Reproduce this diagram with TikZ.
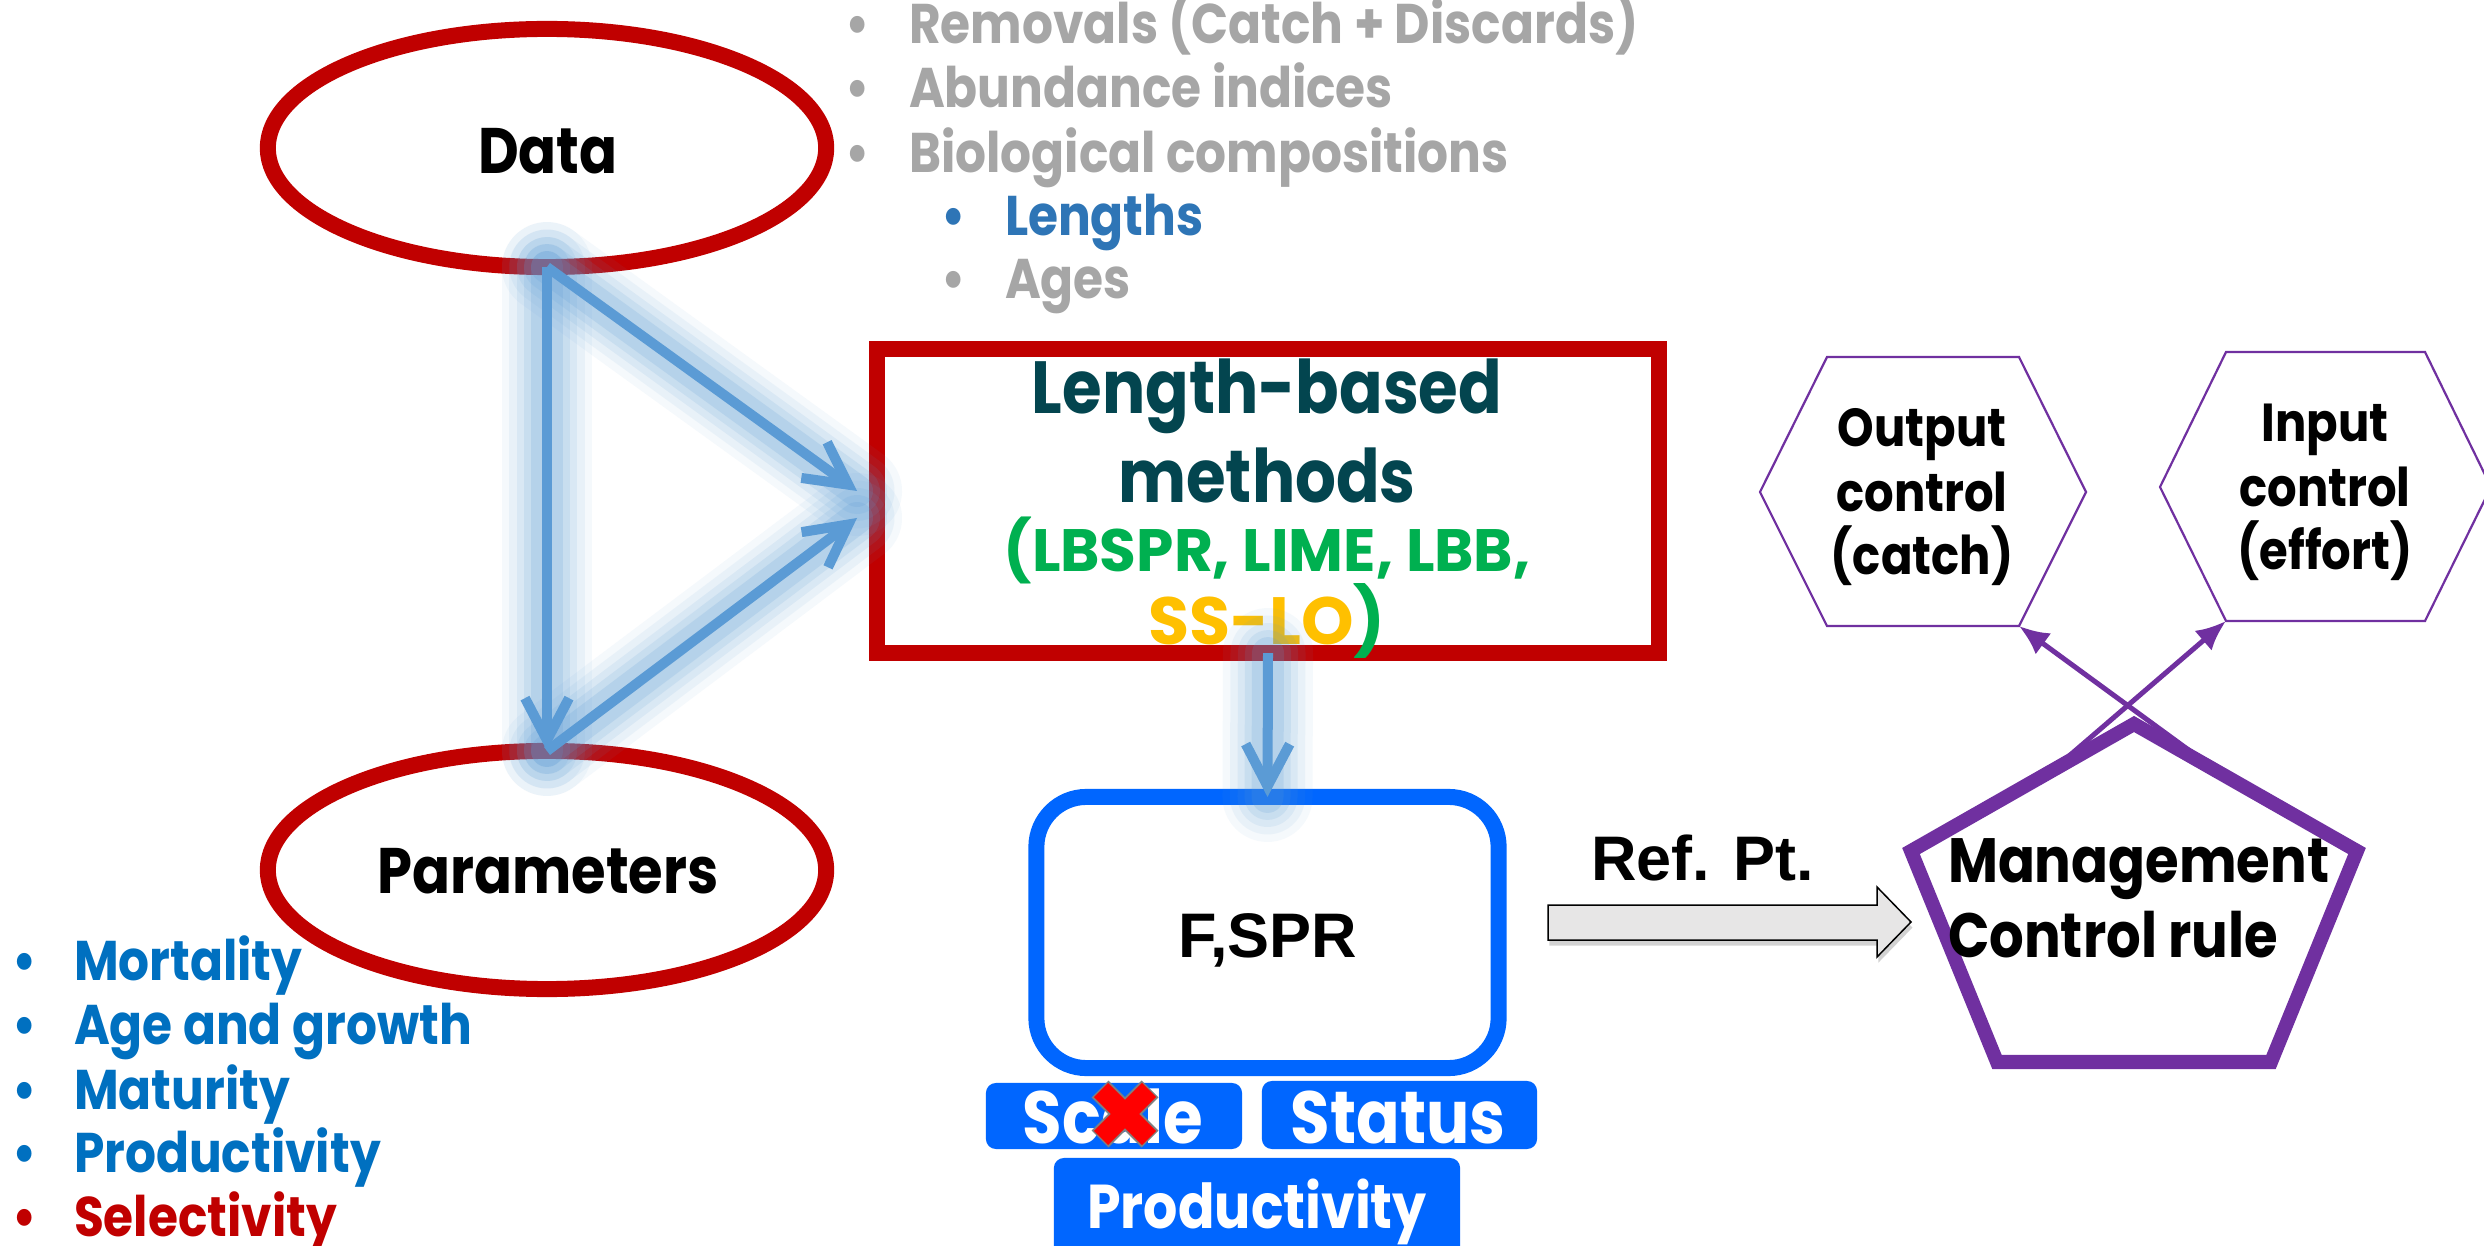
\documentclass[tikz,border=0pt]{standalone}
\usepackage{fontspec}
\newfontfamily\gf{Poppins}[FakeStretch=0.87]
\newfontfamily\gfw{Poppins}[FakeStretch=1.0]
\newfontfamily\ar{Liberation Sans}
\usetikzlibrary{arrows.meta,shapes.geometric,shadows}
\definecolor{dred}{HTML}{C00000}
\definecolor{lgray}{HTML}{A6A6A6}
\definecolor{lenblue}{HTML}{2E75B6}
\definecolor{parblue}{HTML}{0070C0}
\definecolor{teal}{HTML}{03454F}
\definecolor{lgreen}{HTML}{00B050}
\definecolor{lyellow}{HTML}{FFC000}
\definecolor{fblue}{HTML}{0066FF}
\definecolor{ablue}{HTML}{5B9BD5}
\definecolor{purp}{HTML}{7030A0}
\definecolor{afill}{HTML}{E7E6E6}
\definecolor{xred}{HTML}{FF0000}
\begin{document}
\begin{tikzpicture}[x=0.01cm,y=-0.01cm,
  lbl/.style={inner sep=0pt, outer sep=0pt, anchor=base},
  lblw/.style={inner sep=0pt, outer sep=0pt, anchor=base west},
  gfs/.style={font=\gf\bfseries\fontsize{#1}{#1}\selectfont},
  gfws/.style={font=\gfw\bfseries\fontsize{#1}{#1}\selectfont},
  ars/.style={font=\ar\bfseries\fontsize{#1}{#1}\selectfont},
  redell/.style={ellipse, draw=dred, line width=0.16cm, minimum width=5.58cm, minimum height=2.38cm, inner sep=0pt, outer sep=0pt},
  subbox/.style={fill=fblue, rounded corners=0.1cm, inner sep=0pt, outer sep=0pt},
  hexline/.style={draw=purp, line width=0.022cm, line join=miter},
  parrow/.style={draw=purp, line width=0.05cm, -{Latex[length=0.3cm,width=0.26cm]}},
  barrow/.style={draw=ablue, line width=0.1cm, -{Straight Barb[length=0.42cm,width=0.44cm]}},
  glow/.style={draw=ablue, line cap=round}
]
\useasboundingbox (0,0) rectangle (2484,1246);
\fill[white] (0,0) rectangle (2484,1246);

% ---- ellipses
\node[redell] (data) at (547,148) {};
\node[lbl, gfs=18.3] (datat) at (548,174) {Data};
\node[redell] (par) at (547,870) {};
\node[lbl, gfs=18.3] (part) at (548,893) {Parameters};

% ---- data list
\node[lbl, gfs=15.9, text=lgray] (b1) at (858,44) {•};
\node[lblw, gfs=15.9, text=lgray] (d1) at (909,44) {Removals (Catch + Discards)};
\node[lbl, gfs=15.9, text=lgray] (b2) at (858,108) {•};
\node[lblw, gfs=15.9, text=lgray] (d2) at (909,108) {Abundance indices};
\node[lbl, gfs=15.9, text=lgray] (b3) at (858,173) {•};
\node[lblw, gfs=15.9, text=lgray] (d3) at (909,173) {Biological compositions};
\node[lbl, gfs=15.9, text=lenblue] (b4) at (954,236) {•};
\node[lblw, gfs=15.9, text=lenblue] (d4) at (1005,236) {Lengths};
\node[lbl, gfs=15.9, text=lgray] (b5) at (954,299) {•};
\node[lblw, gfs=15.9, text=lgray] (d5) at (1005,299) {Ages};

% ---- parameter list
\node[lbl, gfs=15.9, text=parblue] (c1) at (25,980) {•};
\node[lblw, gfs=15.9, text=parblue] (p1) at (74,980) {Mortality};
\node[lbl, gfs=15.9, text=parblue] (c2) at (25,1044) {•};
\node[lblw, gfs=15.9, text=parblue] (p2) at (74,1044) {Age and growth};
\node[lbl, gfs=15.9, text=parblue] (c3) at (25,1109) {•};
\node[lblw, gfs=15.9, text=parblue] (p3) at (74,1109) {Maturity};
\node[lbl, gfs=15.9, text=parblue] (c4) at (25,1172) {•};
\node[lblw, gfs=15.9, text=parblue] (p4) at (74,1172) {Productivity};
\node[lbl, gfs=15.9, text=dred] (c5) at (25,1236) {•};
\node[lblw, gfs=15.9, text=dred] (p5) at (74,1236) {Selectivity};

% ---- length-based box
\node[draw=dred, line width=0.16cm, minimum width=7.82cm, minimum height=3.04cm, inner sep=0pt, outer sep=0pt] (lbm) at (1268,501) {};
\node[lbl, gfs=21, text=teal] (lb1) at (1267,414) {Length-based};
\node[lbl, gfs=21, text=teal] (lb2) at (1267,503) {methods};
\node[lbl, gfws=17, text=lgreen] (lb3) at (1267,572) {(LBSPR, LIME, LBB,};
\node[lbl, gfws=19] (lb4) at (1267,645) {\textcolor{lyellow}{SS-LO}\textcolor{lgreen}{)}};

% ---- F,SPR box
\node[draw=fblue, line width=0.16cm, rounded corners=0.5cm, minimum width=4.62cm, minimum height=2.71cm, inner sep=0pt, outer sep=0pt] (fspr) at (1267.5,932.5) {};
\node[lbl, ars=17.9] (fsprt) at (1268,957) {F,SPR};

% ---- sub boxes
\node[subbox, minimum width=2.56cm, minimum height=0.66cm] (scale) at (1114,1116) {};
\node[lbl, gfs=21, text=white] (scalet) at (1113,1143) {Scale};
\node[subbox, minimum width=2.75cm, minimum height=0.68cm] (status) at (1399.5,1115) {};
\node[lbl, gfs=21, text=white] (statust) at (1398,1143) {Status};
\node[subbox, minimum width=4.06cm, minimum height=1.02cm] (prod) at (1257,1209) {};
\node[lbl, gfs=17.6, text=white] (prodt) at (1257,1228) {Productivity};
\begin{scope}[shift={(1125,1114)}]
  \draw[draw=gray, line width=0.24cm] (-25,-25) -- (25,25);
  \draw[draw=gray, line width=0.24cm] (-25,25) -- (25,-25);
  \draw[draw=xred, line width=0.2cm] (-24,-24) -- (24,24);
  \draw[draw=xred, line width=0.2cm] (-24,24) -- (24,-24);
\end{scope}

% ---- Ref. Pt. block arrow
\node[lblw, ars=17.9] (ref) at (1591,880) {Ref. Pt.};
\draw[fill=afill, draw=black, line width=0.015cm,
      drop shadow={shadow xshift=0.4pt, shadow yshift=-1.6pt, opacity=0.35}]
  (1548,905) -- (1877,905) -- (1877,887) -- (1911,922) -- (1877,957) -- (1877,940) -- (1548,940) -- cycle;

% ---- hexagons
\coordinate (oh1) at (1760,492); \coordinate (oh2) at (1827,357); \coordinate (oh3) at (2019,357);
\coordinate (oh4) at (2086,492); \coordinate (oh5) at (2019,626); \coordinate (oh6) at (1827,626);
\draw[hexline] (oh1) -- (oh2) -- (oh3) -- (oh4) -- (oh5) -- (oh6) -- cycle;
\node[lbl, gfs=15.2] (o1) at (1922,447) {Output};
\node[lbl, gfs=15.2] (o2) at (1922,512) {control};
\node[lbl, gfs=15.2] (o3) at (1922,575) {(catch)};
\coordinate (ih1) at (2160,487); \coordinate (ih2) at (2226,352); \coordinate (ih3) at (2425,352);
\coordinate (ih4) at (2491,487); \coordinate (ih5) at (2425,621); \coordinate (ih6) at (2226,621);
\draw[hexline] (ih1) -- (ih2) -- (ih3) -- (ih4) -- (ih5) -- (ih6) -- cycle;
\node[lbl, gfs=15.2] (i1) at (2325,442) {Input};
\node[lbl, gfs=15.2] (i2) at (2325,507) {control};
\node[lbl, gfs=15.2] (i3) at (2325,570) {(effort)};

% ---- pentagon
\coordinate (pt) at (2134,724); \coordinate (pr) at (2357,851); \coordinate (pbr) at (2271,1062);
\coordinate (pbl) at (1997,1062); \coordinate (pl) at (1911,851);
\draw[draw=purp, line width=0.14cm, line join=miter] (pt) -- (pr) -- (pbr) -- (pbl) -- (pl) -- cycle;
\node[lblw, gfs=17.8] (m1) at (1948,882) {Management};
\node[lblw, gfs=17.8] (m2) at (1948,957) {Control rule};
\coordinate (s1) at (2205,762);
\coordinate (s2) at (2062,762);
\draw[parrow] (s1) -- (oh5);
\draw[parrow] (s2) -- (ih6);

% ---- glowing blue arrows
\coordinate (t1) at (857,491);
\coordinate (t2) at (857,518);
\foreach \w/\o in {0.9/0.06, 0.75/0.08, 0.6/0.1, 0.46/0.13, 0.32/0.17}{
  \draw[glow, line width=\w cm, opacity=\o] (data.south) -- (par.north);
  \draw[glow, line width=\w cm, opacity=\o] (data.south) -- (t1);
  \draw[glow, line width=\w cm, opacity=\o] (par.north) -- (t2);
  \draw[glow, line width=\w cm, opacity=\o] (lbm.south) -- (fspr.north);
}
\draw[barrow] (data.south) -- (par.north);
\draw[barrow] (data.south) -- (t1);
\draw[barrow] (par.north) -- (t2);
\draw[barrow] (lbm.south) -- (fspr.north);
\end{tikzpicture}
\end{document}
